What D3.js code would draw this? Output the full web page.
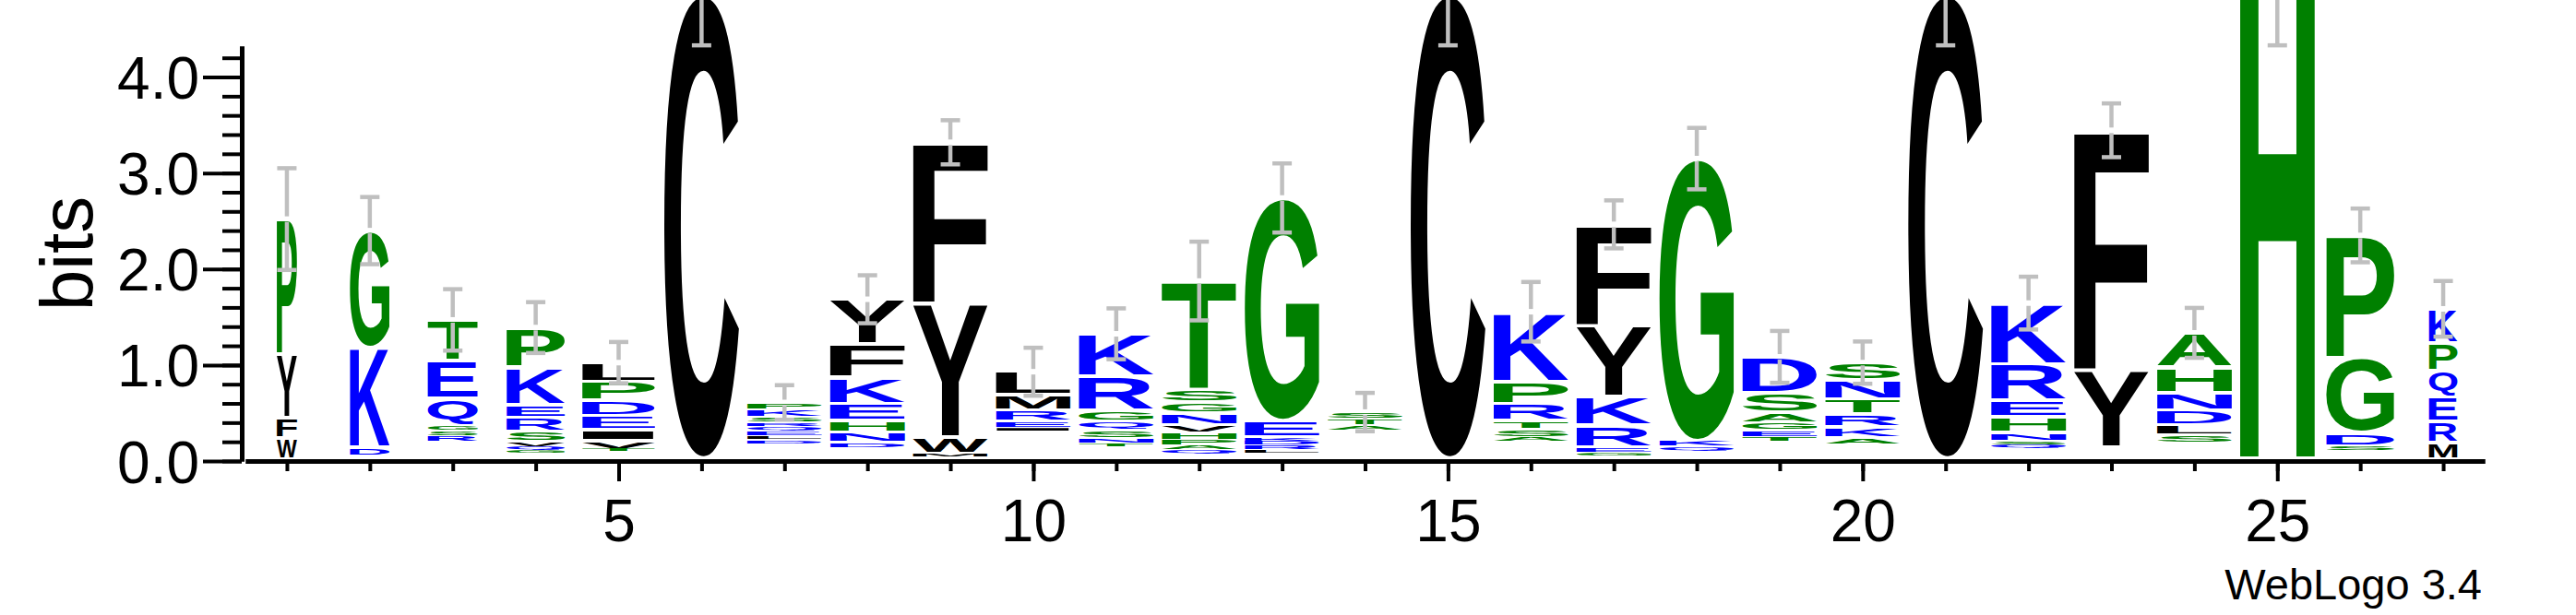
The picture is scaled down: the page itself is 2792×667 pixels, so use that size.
<!DOCTYPE html>
<html>
<head>
<meta charset="utf-8">
<script src="https://cdn.jsdelivr.net/npm/d3@7"></script>
<style>
  body { margin: 0; background: #fff; }
  svg { display: block; }
</style>
</head>
<body>
<div class="canva"></div>
<script>
// sequence logo values (bits, stacked bottom -> top)
const positions = [1, 2, 3, 4, 5, 6, 7, 8, 9, 10, 11, 12, 13, 14, 15, 16, 17, 18, 19, 20, 21, 22, 23, 24, 25, 26, 27];
const letters = ["WFYP", "DKG", "RSGQET", "GQVSREKP", "TVIEDPL", "C", "DLEQRSKP", "DNHEKFY", "MWYF",
                 "IERML", "TNSQGRK", "QAPHVNGST", "LRDKEG", "ATS", "C", "ASTRPK", "GERKYF", "QKG",
                 "TEGASD", "AKRTNS", "C", "QSNHERK", "YF", "SLDNHA", "H", "SDGP", "MREQPK"];
const heights = [
  [0.22, 0.21, 0.66, 1.41],
  [0.08, 1.045, 1.215],
  [0.06, 0.06, 0.055, 0.28, 0.395, 0.42],
  [0.03, 0.035, 0.055, 0.105, 0.145, 0.135, 0.385, 0.415],
  [0.025, 0.09, 0.11, 0.15, 0.16, 0.195, 0.195],
  [4.83],
  [0.04, 0.04, 0.05, 0.05, 0.04, 0.06, 0.08, 0.07],
  [0.055, 0.105, 0.12, 0.18, 0.27, 0.35, 0.465],
  [0.04, 0.17, 1.395, 1.675],
  [0.04, 0.06, 0.12, 0.16, 0.24],
  [0.035, 0.05, 0.09, 0.09, 0.115, 0.355, 0.44],
  [0.035, 0.045, 0.06, 0.08, 0.08, 0.12, 0.11, 0.14, 1.125],
  [0.04, 0.045, 0.045, 0.04, 0.17, 2.32],
  [0.05, 0.07, 0.07],
  [4.83],
  [0.045, 0.085, 0.09, 0.18, 0.23, 0.725],
  [0.04, 0.055, 0.225, 0.30, 0.745, 1.05],
  [0.05, 0.06, 2.94],
  [0.05, 0.07, 0.08, 0.11, 0.205, 0.37],
  [0.07, 0.11, 0.14, 0.155, 0.195, 0.185],
  [4.83],
  [0.035, 0.04, 0.09, 0.165, 0.17, 0.38, 0.635],
  [0.805, 2.5],
  [0.08, 0.1, 0.16, 0.185, 0.265, 0.355],
  [5.32],
  [0.045, 0.14, 0.78, 1.275],
  [0.17, 0.22, 0.255, 0.275, 0.29, 0.355]
];
// residues too small to be drawn, sitting under each stack
const minorBits = [0.02, 0.06, 0.2, 0.085, 0.1, 0.03, 0.18, 0.14, 0.04, 0.31, 0.15, 0.08, 0.08, 0.32,
                   0.03, 0.2, 0.05, 0.1, 0.2, 0.17, 0.03, 0.13, 0.14, 0.19, 0.03, 0.11, 0.02];
const errorBits = [0.53, 0.35, 0.32, 0.265, 0.215, 0.53, 0.18, 0.25, 0.23, 0.25, 0.265, 0.41, 0.36, 0.2,
                   0.53, 0.31, 0.25, 0.32, 0.27, 0.22, 0.53, 0.275, 0.28, 0.26, 1.02, 0.28, 0.29];
// stack width as a fraction of a full column (fewer sequences -> narrower)
const widthFrac = [0.27, 0.53, 0.67, 0.78, 0.975, 1, 1, 1, 1, 1, 1, 1, 1, 1, 1, 1, 1, 1, 1, 1, 1, 1, 1, 1, 1, 0.91, 0.38];
const yMajorTicks = [0, 1, 2, 3, 4];
const yMinorTicks = [0, 0.2, 0.4, 0.6, 0.8, 1, 1.2, 1.4, 1.6, 1.8, 2, 2.2, 2.4, 2.6, 2.8, 3, 3.2, 3.4, 3.6, 3.8, 4, 4.2];
const xMajorTicks = [5, 10, 15, 20, 25];

// hydrophobicity colour scheme
const hydrophilic = "RKDENQ", neutral = "SGHTAP";
const colorOf = ch => hydrophilic.includes(ch) ? "#0000ff" : neutral.includes(ch) ? "#008000" : "#000000";

const W = 2792, H = 667;
const fontFam = "'Liberation Sans', Arial, Helvetica, sans-serif";

const svg = d3.select(".canva").append("svg")
    .attr("width", W)
    .attr("height", H);

const x = d3.scaleLinear().domain([0.5, 27.5]).range([266, 2693]);
const y = d3.scaleLinear().domain([0, Math.log2(20)]).range([500, 50]);
const colW = 81;

// measure tight glyph boxes so each letter can be stretched into its slot
const ctx = document.createElement("canvas").getContext("2d");
ctx.font = "bold 200px " + fontFam;
const boxCache = {};
function glyphBox(ch) {
  if (!boxCache[ch]) {
    const m = ctx.measureText(ch);
    boxCache[ch] = {l: m.actualBoundingBoxLeft, r: m.actualBoundingBoxRight,
                    a: m.actualBoundingBoxAscent, d: m.actualBoundingBoxDescent};
  }
  return boxCache[ch];
}

// build flat list of glyphs
const glyphs = [];
positions.forEach((p, i) => {
  let base = minorBits[i];
  letters[i].split("").forEach((ch, j) => {
    glyphs.push({pos: p, ch: ch, lo: base, hi: base + heights[i][j], frac: widthFrac[i]});
    base += heights[i][j];
  });
});

const logo = svg.append("g").attr("class", "logo");
logo.selectAll("text")
    .data(glyphs)
    .enter()
    .append("text")
    .attr("font-family", fontFam)
    .attr("font-weight", "bold")
    .attr("font-size", 200)
    .attr("fill", d => colorOf(d.ch))
    .attr("transform", d => {
      const b = glyphBox(d.ch);
      const w = colW * d.frac;
      const top = y(d.hi), h = y(d.lo) - y(d.hi);
      const inset = Math.min(2, h * 0.15);
      const gh = h - 2 * inset;
      return `translate(${x(d.pos) - w / 2},${top + inset}) scale(${w / (b.l + b.r)},${gh / (b.a + b.d)}) translate(${b.l},${b.a})`;
    })
    .text(d => d.ch);

// error bars, centred on the top of each stack
const errG = svg.append("g").attr("class", "errors")
    .attr("stroke", "#bfbfbf")
    .attr("stroke-width", 4.5)
    .attr("fill", "none");
positions.forEach((p, i) => {
  const total = minorBits[i] + d3.sum(heights[i]);
  const cx = x(p), cy = y(total);
  const up = y(total + errorBits[i]), dn = y(total - errorBits[i]);
  errG.append("line").attr("x1", cx).attr("x2", cx).attr("y1", cy - 3).attr("y2", up);
  errG.append("line").attr("x1", cx).attr("x2", cx).attr("y1", cy + 3).attr("y2", dn);
  errG.append("line").attr("x1", cx - 10.5).attr("x2", cx + 10.5).attr("y1", up).attr("y2", up);
  errG.append("line").attr("x1", cx - 10.5).attr("x2", cx + 10.5).attr("y1", dn).attr("y2", dn);
});

// y axis
const yAxisMinor = d3.axisLeft(y).tickValues(yMinorTicks).tickSize(21).tickSizeOuter(0).tickFormat("");
const yAxisMajor = d3.axisLeft(y).tickValues(yMajorTicks).tickSize(42).tickSizeOuter(0)
    .tickPadding(4).tickFormat(d3.format(".1f"));

const yg = svg.append("g").attr("transform", "translate(262,0)");
yg.append("g").call(yAxisMinor);
yg.append("g").call(yAxisMajor);

// x axis
const xAxisMinor = d3.axisBottom(x).tickValues(positions).tickSize(11).tickSizeOuter(0).tickFormat("");
const xAxisMajor = d3.axisBottom(x).tickValues(xMajorTicks).tickSize(22).tickSizeOuter(0).tickPadding(20);

const xg = svg.append("g").attr("transform", "translate(0,500)");
xg.append("g").call(xAxisMinor);
xg.append("g").call(xAxisMajor);

svg.selectAll(".domain").attr("stroke", "#000").attr("stroke-width", 5);
svg.selectAll(".tick line").attr("stroke", "#000").attr("stroke-width", 4);
svg.selectAll(".tick text")
    .attr("font-family", fontFam)
    .attr("font-size", 64)
    .attr("fill", "#000");
yg.selectAll(".tick text").attr("dy", "0.36em");

// axis title
svg.append("text")
    .attr("transform", "translate(100,275) rotate(-90)")
    .attr("text-anchor", "middle")
    .attr("font-family", fontFam)
    .attr("font-size", 80)
    .text("bits");

// footer
svg.append("text")
    .attr("x", 2690)
    .attr("y", 650)
    .attr("text-anchor", "end")
    .attr("font-family", fontFam)
    .attr("font-size", 47)
    .text("WebLogo 3.4");
</script>
</body>
</html>
